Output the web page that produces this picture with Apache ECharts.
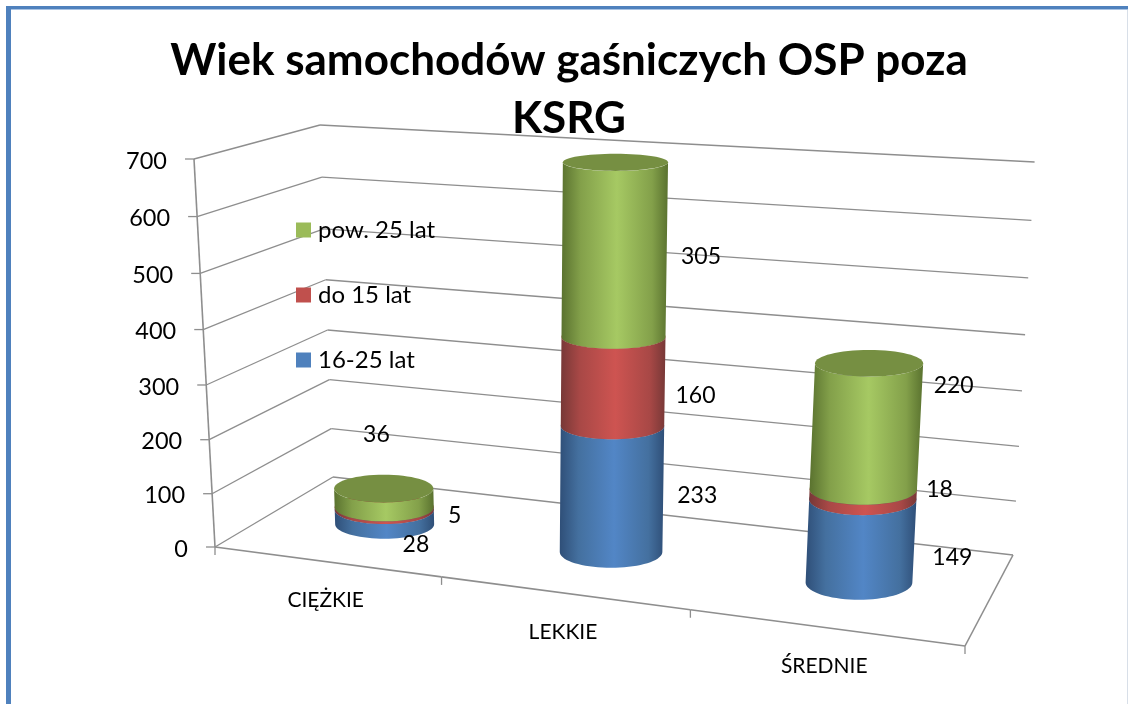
<!DOCTYPE html>
<html style="height: 100%">
<head>
    <meta charset="utf-8">
    <script src="https://cdn.jsdelivr.net/npm/echarts@6/dist/echarts.min.js"></script>
</head>
<body style="height: 100%; margin: 0; background: #fff">
    <div id="main" style="width: 1128px; height: 704px"></div>
    <script type="text/javascript">
        var categories = ['CIĘŻKIE', 'LEKKIE', 'ŚREDNIE'];
        var tickValues = [0, 100, 200, 300, 400, 500, 600, 700];
        var age16to25 = [28, 233, 149];
        var ageTo15 = [5, 160, 18];
        var ageOver25 = [36, 305, 220];

        var FONT = 'Lato';
        var AXIS_GRAY = '#8e8e8e';

        // corners of the 3d box in px: floor and the vertical edge vectors
        var FL = [215, 547], FR = [965, 646], BR = [1013, 555], BL = [333, 477];
        var VFL = [-21, -388], VFR = [30, -430], VBR = [21.6, -393], VBL = [-13, -352];

        // floor homography (unit square -> px)
        var dx1 = FR[0] - BR[0], dx2 = BL[0] - BR[0], sx = FL[0] - FR[0] + BR[0] - BL[0];
        var dy1 = FR[1] - BR[1], dy2 = BL[1] - BR[1], sy = FL[1] - FR[1] + BR[1] - BL[1];
        var den = dx1 * dy2 - dx2 * dy1;
        var hg = (sx * dy2 - dx2 * sy) / den;
        var hh = (dx1 * sy - sx * dy1) / den;
        var ha = FR[0] - FL[0] + hg * FR[0], hb = BL[0] - FL[0] + hh * BL[0], hc = FL[0];
        var hd = FR[1] - FL[1] + hg * FR[1], he = BL[1] - FL[1] + hh * BL[1], hf = FL[1];

        function project(u, w, T) {
            var q = 1 + hg * u + hh * w;
            var x = (ha * u + hb * w + hc) / q;
            var y = (hd * u + he * w + hf) / q;
            var i;
            var v = [0, 0];
            for (i = 0; i < 2; i++) {
                v[i] = (1 - u) * (1 - w) * VFL[i] + u * (1 - w) * VFR[i] + u * w * VBR[i] + (1 - u) * w * VBL[i];
            }
            return [x + T * v[0], y + T * v[1]];
        }

        // value -> height fraction, goes through the y axis scale
        function heightOf(api, value) {
            var y0 = api.coord([0, 0])[1];
            var y1 = api.coord([0, 700])[1];
            var t = (y0 - api.coord([0, value])[1]) / (y0 - y1);
            return t - 0.045 * t * (1 - t);
        }

        // category -> position along the floor, goes through the x axis scale
        function floorU(api, index) {
            var x0 = api.coord([0, 0])[0] - api.size([1, 0])[0] / 2;
            return (api.coord([index, 0])[0] - x0) / (api.size([1, 0])[0] * categories.length);
        }

        // flat ellipse of a cylinder at height T
        function disc(u0, T) {
            var du = 0.03, dw = 0.2;
            var c = project(u0, 0.5, T);
            var a = project(u0 - du, 0.5, T), b = project(u0 + du, 0.5, T);
            var f = project(u0, 0.5 - dw, T), k = project(u0, 0.5 + dw, T);
            return {
                cx: c[0] + 1.5,
                cy: c[1] + 1,
                rx: 30 + (b[0] - a[0]) / 2,
                ry: (f[1] - k[1]) / 2
            };
        }

        function frontArc(e) {
            var pts = [];
            for (var i = 0; i <= 36; i++) {
                var a = Math.PI - i / 36 * Math.PI;
                pts.push([e.cx + e.rx * Math.cos(a), e.cy + e.ry * Math.sin(a)]);
            }
            return pts;
        }

        function shade(stops) {
            return new echarts.graphic.LinearGradient(0, 0, 1, 0, [
                { offset: 0, color: stops[0] },
                { offset: 0.18, color: stops[1] },
                { offset: 0.52, color: stops[2] },
                { offset: 0.85, color: stops[1] },
                { offset: 1, color: stops[0] }
            ]);
        }

        function textEl(str, x, y, size, align) {
            return {
                type: 'text',
                z2: 50,
                style: {
                    text: str, x: x, y: y, fill: '#000',
                    fontFamily: FONT, fontSize: size,
                    align: align || 'center', verticalAlign: 'middle'
                }
            };
        }

        function line(a, b, width) {
            return {
                type: 'line',
                shape: { x1: a[0], y1: a[1], x2: b[0], y2: b[1] },
                style: { stroke: AXIS_GRAY, lineWidth: width || 1.3 }
            };
        }

        function cylinderSeries(name, values, below, color, stops, topColor, offsets) {
            return {
                name: name,
                type: 'custom',
                coordinateSystem: 'cartesian2d',
                itemStyle: { color: color },
                encode: { x: 0, y: 1 },
                z: 5,
                clip: false,
                data: values.map(function (v, i) {
                    return [i, v, below[i]];
                }),
                renderItem: function (params, api) {
                    var i = api.value(0);
                    var base = api.value(2);
                    var val = api.value(1);
                    var u0 = floorU(api, i);
                    var lowDisc = disc(u0, heightOf(api, base));
                    var upDisc = disc(u0, heightOf(api, base + val));
                    var mid = project(u0, 0.5, heightOf(api, base + val / 2));
                    return {
                        type: 'group',
                        children: [
                            {
                                type: 'polygon',
                                shape: { points: frontArc(lowDisc).concat(frontArc(upDisc).reverse()) },
                                style: { fill: shade(stops) }
                            },
                            {
                                type: 'ellipse',
                                shape: upDisc,
                                style: { fill: topColor }
                            },
                            textEl(String(val), mid[0] + offsets[i][0], mid[1] + offsets[i][1], 23)
                        ]
                    };
                }
            };
        }

        var belowTo15 = age16to25;
        var belowOver25 = age16to25.map(function (v, i) {
            return v + ageTo15[i];
        });
        var noBase = categories.map(function () {
            return 0;
        });

        var wallSeries = {
            type: 'custom',
            coordinateSystem: 'cartesian2d',
            encode: { y: 0 },
            z: 1,
            clip: false,
            silent: true,
            data: tickValues.map(function (v) {
                return [v];
            }),
            renderItem: function (params, api) {
                var v = api.value(0);
                var T = heightOf(api, v);
                var front = project(0, 0, T);
                var back = project(0, 1, T);
                var right = project(1, 1, T);
                return {
                    type: 'group',
                    children: [
                        line(front, back),
                        line(back, right),
                        line([front[0] - 9, front[1]], front),
                        textEl(String(v), front[0] - 27, front[1] + 2, 23.5, 'right')
                    ]
                };
            }
        };

        var floorSeries = {
            type: 'custom',
            coordinateSystem: 'cartesian2d',
            encode: { x: 0 },
            z: 2,
            clip: false,
            silent: true,
            data: categories.map(function (c, i) {
                return [i];
            }),
            renderItem: function (params, api) {
                var i = api.value(0);
                var u0 = floorU(api, i);
                var du = 1 / categories.length;
                var left = project(u0 - du / 2, 0, 0);
                var right = project(u0 + du / 2, 0, 0);
                var mid = project(u0, 0, 0);
                var kids = [
                    line(left, right, 1.6),
                    line(right, [right[0], right[1] + 8]),
                    textEl(categories[i], mid[0], mid[1] + 39, 21)
                ];
                if (i === 0) {
                    kids.push(line(left, [left[0], left[1] + 8]));
                    kids.push(line(left, project(0, 0, 1), 1.6));
                }
                if (i === categories.length - 1) {
                    kids.push(line(right, project(1, 1, 0), 1.6));
                }
                return { type: 'group', children: kids };
            }
        };

        var BLUE = ['#2f4f78', '#44709f', '#5286c6'];
        var RED = ['#773837', '#a84846', '#ce5451'];
        var GREEN = ['#5a722f', '#83a04a', '#a6c963'];

        var option = {
            animation: false,
            backgroundColor: '#fff',
            title: {
                text: 'Wiek samochodów gaśniczych OSP poza\nKSRG',
                left: 569,
                top: 32,
                padding: 0,
                textAlign: 'center',
                textStyle: {
                    fontFamily: FONT,
                    fontWeight: 'bold',
                    fontSize: 44,
                    lineHeight: 58,
                    color: '#000'
                }
            },
            legend: {
                orient: 'vertical',
                left: 296,
                top: 218,
                padding: 0,
                itemWidth: 15,
                itemHeight: 15,
                itemGap: 41,
                icon: 'rect',
                data: ['pow. 25 lat', 'do 15 lat', '16-25 lat'],
                textStyle: { fontFamily: FONT, fontSize: 24, color: '#000', padding: [0, 0, 0, 2] }
            },
            grid: { left: 215, right: 163, top: 159, bottom: 157 },
            xAxis: { type: 'category', data: categories, show: false },
            yAxis: { type: 'value', min: 0, max: 700, interval: 100, show: false },
            graphic: [
                { type: 'rect', shape: { x: 6, y: 6, width: 1122, height: 3 }, style: { fill: '#4f81bd' } },
                { type: 'rect', shape: { x: 11, y: 9, width: 1117, height: 1 }, style: { fill: '#a9c3e3' } },
                { type: 'rect', shape: { x: 6, y: 6, width: 5, height: 698 }, style: { fill: '#4f81bd' } },
                { type: 'rect', shape: { x: 1127, y: 10, width: 1, height: 694 }, style: { fill: '#d8dfe8' } }
            ],
            series: [
                wallSeries,
                floorSeries,
                cylinderSeries('16-25 lat', age16to25, noBase, '#4f81bd', BLUE, '#3f6797',
                    [[33, 29], [87, 7], [93, 18]]),
                cylinderSeries('do 15 lat', ageTo15, belowTo15, '#c0504d', RED, '#9a403e',
                    [[72, 8], [84, 15], [78, -4]]),
                cylinderSeries('pow. 25 lat', ageOver25, belowOver25, '#9bbb59', GREEN, '#768f42',
                    [[-6, -62], [88, 7], [89, -40]])
            ]
        };

        var myChart = echarts.init(document.getElementById('main'));
        myChart.setOption(option);
    </script>
</body>
</html>
